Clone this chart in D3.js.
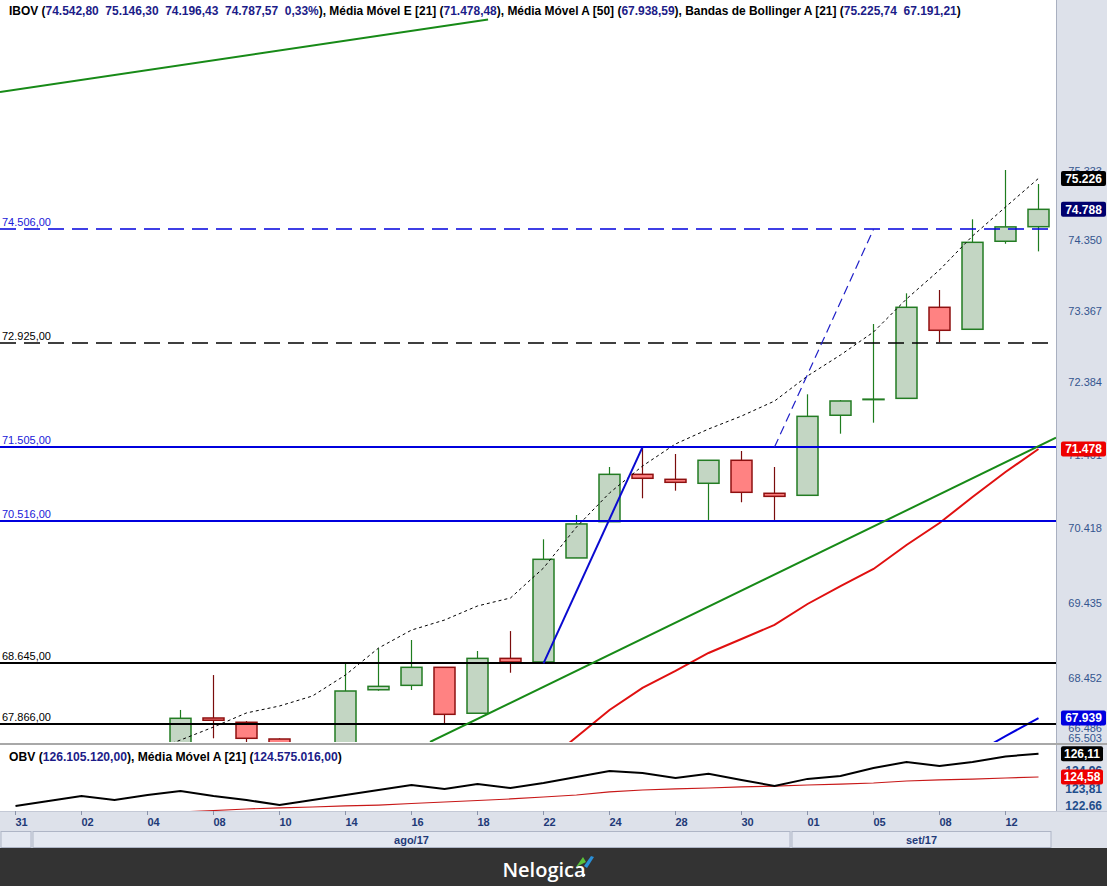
<!DOCTYPE html>
<html><head><meta charset="utf-8">
<script src="https://cdn.jsdelivr.net/npm/d3@7"></script>
<style>body{margin:0;background:#fff;overflow:hidden}svg{display:block}</style>
</head><body>
<svg id="c" width="1107" height="886"></svg>
<script>
// ---------------- DATA ----------------
const dayLabels = ["31","01","02","03","04","07","08","09","10","11","14","15","16","17","18","21","22","23","24","25","28","29","30","31","01","04","05","06","08","11","12","13"];
const monthLabels = ["jul/17","ago/17","set/17"];
const monthStart = [0, 1, 24];
const open  = [65600,65920,66520,66780,66770,66900,67940,67885,67671,66990,67400,68303,68360,68593,68001,68709,68662,70024,70505,71138,71071,71018,71327,70884,70857,71936,72150,72166,73417,73113,74338,74542.80];
const high  = [65980,66550,66900,66980,67400,68043,68493,67900,67680,67500,68645,68840,68948,68593,68805,69064,70271,70594,71237,71502,71412,71327,71452,71237,72221,72143,73186,73611,73657,74647,75345,75146.30];
const low   = [65500,65900,66400,66600,66700,66880,67680,67550,66950,66950,67380,68290,68300,67872,68001,68523,68662,70024,70505,70817,70919,70528,70764,70528,70857,71686,71835,72166,72933,73113,74303,74196.43];
const close = [65920,66520,66780,66770,66900,67936,67911,67680,66990,67360,68287,68347,68593,67987,68709,68662,70006,70475,71138,71085,71031,71327,70897,70843,71921,72130,72155,73417,73099,74323,74540,74787.57];
const ema21 = [null,null,null,null,null,null,null,null,null,null,null,null,null,null,null,null,67352,67697,68043,68326,68546,68779,68961,69144,69418,69654,69878,70195,70487,70834,71169,71478.48];
const sma50 = [null,null,null,null,null,null,null,null,null,null,null,null,null,null,null,null,null,null,null,null,null,null,null,null,null,null,null,null,null,67466,67709,67938.59];
const bbUpper = [null,null,null,67400,67500,67658,67824,68005,68094,68223,68494,68843,69077,69208,69392,69497,69891,70434,70888,71250,71547,71749,71925,72129,72471,72759,73075,73532,73936,74412,74820,75225.74];
const bbLowerLast = 67191.21;
const obv   = [122.67,123.00,123.33,123.06,123.39,123.66,123.33,123.06,122.74,123.06,123.39,123.72,124.05,123.79,124.12,123.85,124.18,124.58,124.97,124.84,124.51,124.78,124.38,123.99,124.45,124.64,125.17,125.56,125.30,125.56,125.93,126.10512];
const obvMA = [121.94,122.01,122.08,122.14,122.21,122.27,122.37,122.47,122.54,122.60,122.67,122.73,122.83,122.93,123.03,123.13,123.26,123.39,123.59,123.72,123.79,123.85,123.92,123.98,124.05,124.11,124.18,124.31,124.38,124.44,124.51,124.575016];
const priceTicks = [75333,74350,73367,72384,71401,70418,69435,68452,67469,66486,65503];
const obvTicks = [126.11,124.96,123.81,122.66];
const obvTickLabels = ["126,11","124,96","123,81","122.66"];
// horizontal levels drawn by the user
const levels = [74506,72925,71505,70516,68645,67866];
const levelColor = ["blue","black","blue","blue","black","black"];
const levelDashed = [true,true,false,false,false,false];
// trend lines: [index, price] pairs
const greenTopLine = [[-0.47,76463],[14.32,77516]];
const greenLowLine = [[12.56,67633],[31.53,71631]];
const blueLine = [[16,68645],[19,71505]];
const blueDashLine = [[23,71505],[26,74506]];

// ---------------- LAYOUT ----------------
const W=1107, paneR=1056, pTop=0, pBot=742, oTop=746, oBot=811, axBot=848;
const svg = d3.select("#c");
const loc = d3.formatLocale({decimal:",", thousands:".", grouping:[3], currency:["R$ ",""]});
const f2 = loc.format(",.2f"), f0 = loc.format(",.0f");
const FONT = "'Liberation Sans', Arial, sans-serif";

const n = close.length, idx = d3.range(n);
const x = d3.scaleLinear().domain([0, n-1]).range([15.5, 15.5+33*(n-1)]);
const y = d3.scaleLog().domain([67620, 77802]).range([743, 0]);
const yo = d3.scaleLinear().domain([122.338, 126.614]).range([oBot, oTop]);

// backgrounds
svg.append("rect").attr("width",W).attr("height",886).attr("fill","#fff");
svg.append("rect").attr("x",paneR).attr("y",0).attr("width",W-paneR).attr("height",oBot).attr("fill","#dde1ea");
svg.append("rect").attr("x",0).attr("y",oBot).attr("width",W).attr("height",axBot-oBot).attr("fill","#dde1ea");
svg.append("line").attr("x1",paneR+0.5).attr("x2",paneR+0.5).attr("y1",0).attr("y2",oBot).attr("stroke","#a9b0c0");
svg.append("rect").attr("x",0).attr("y",pBot+1).attr("width",W).attr("height",2).attr("fill","#a8a8a8");
svg.append("line").attr("x1",0).attr("x2",W).attr("y1",oBot+0.5).attr("y2",oBot+0.5).attr("stroke","#c4c9d6");

svg.append("clipPath").attr("id","cp").append("rect").attr("x",0).attr("y",pTop).attr("width",paneR).attr("height",pBot-pTop);
svg.append("clipPath").attr("id","co").append("rect").attr("x",0).attr("y",oTop).attr("width",paneR).attr("height",oBot-oTop);

const gp = svg.append("g").attr("clip-path","url(#cp)");

// candles
const up = i => close[i] >= open[i];
gp.selectAll("line.wick").data(idx).join("line").attr("class","wick")
  .attr("x1",i=>x(i)).attr("x2",i=>x(i)).attr("y1",i=>y(high[i])).attr("y2",i=>y(low[i]))
  .attr("stroke",i=>up(i)?"#1f7d1f":"#7a0c0c").attr("stroke-width",1.2);
gp.selectAll("rect.body").data(idx).join("rect").attr("class","body")
  .attr("x",i=>x(i)-10.5).attr("width",21)
  .attr("y",i=>y(Math.max(open[i],close[i])))
  .attr("height",i=>Math.max(0.5, Math.abs(y(open[i])-y(close[i]))))
  .attr("fill",i=>up(i)?"#c3d6c3":"#ff8282")
  .attr("stroke",i=>up(i)?"#237c23":"#8e1010").attr("stroke-width",1.5);

// indicator lines
const lineOf = arr => d3.line().defined(i=>arr[i]!=null).x(i=>x(i)).y(i=>y(arr[i]));
gp.append("path").attr("d",lineOf(bbUpper)(idx)).attr("fill","none").attr("stroke","#000").attr("stroke-width",1).attr("stroke-dasharray","3,3");
gp.append("path").attr("d",lineOf(ema21)(idx)).attr("fill","none").attr("stroke","#e01010").attr("stroke-width",2);
gp.append("path").attr("d",lineOf(sma50)(idx)).attr("fill","none").attr("stroke","#0000dd").attr("stroke-width",2);

// levels
levels.forEach((v,k)=>{
  const yy = Math.round(y(v));
  const col = levelColor[k]==="blue" ? "#0000dd" : "#000";
  gp.append("line").attr("x1",0).attr("x2",paneR).attr("y1",yy).attr("y2",yy)
    .attr("stroke",col).attr("stroke-width",levelDashed[k]?1.3:2)
    .attr("stroke-dasharray",levelDashed[k]?"16,8":null);
  gp.append("text").attr("x",2).attr("y",yy-3).text(f2(v))
    .attr("font-family",FONT).attr("font-size",11)
    .attr("fill",levelColor[k]==="blue" ? "#2020d8" : "#000");
});

// trend lines
const tl = d3.line().x(d=>x(d[0])).y(d=>y(d[1]));
gp.append("path").attr("d",tl(greenTopLine)).attr("fill","none").attr("stroke","#178a17").attr("stroke-width",2);
gp.append("path").attr("d",tl(greenLowLine)).attr("fill","none").attr("stroke","#178a17").attr("stroke-width",2);
gp.append("path").attr("d",tl(blueLine)).attr("fill","none").attr("stroke","#0a0ad0").attr("stroke-width",2);
gp.append("path").attr("d",tl(blueDashLine)).attr("fill","none").attr("stroke","#2020c8").attr("stroke-width",1.2).attr("stroke-dasharray","9,5");

// legend (price)
function legend(parts, yb, target){
  const t = svg.append("text").attr("x",9).attr("y",yb).attr("font-family",FONT).attr("font-weight","bold").attr("font-size",12).attr("xml:space","preserve");
  parts.forEach(p=> t.append("tspan").text(p[0]).attr("fill",p[1]?"#1c1c88":"#000"));
  const w = t.node().getComputedTextLength();
  t.attr("font-size", 12*target/w);
}
const last = n-1;
const chg = (close[last]-close[last-1])/close[last-1]*100;
legend([["IBOV (",0],[`${f2(open[last])}  ${f2(high[last])}  ${f2(low[last])}  ${f2(close[last])}  ${loc.format(".2f")(chg)}%`,1],["), Média Móvel E [21] (",0],[f2(ema21[last]),1],["), Média Móvel A [50] (",0],[f2(sma50[last]),1],["), Bandas de Bollinger A [21] (",0],[`${f2(bbUpper[last])}  ${f2(bbLowerLast)}`,1],[")",0]], 15, 953);

// price axis labels
const yl = priceTicks.map(v=>y(v));
const maxY = 738;
const clamped = priceTicks.filter((v,k)=>yl[k]>maxY).length;
let ci = 0;
priceTicks.forEach((v,k)=>{
  let yy = yl[k];
  if (yy>maxY){ yy = maxY - (clamped-1-ci)*10; ci++; }
  svg.append("text").attr("x",1102).attr("y",yy).attr("dy","0.35em").attr("text-anchor","end")
    .attr("font-family",FONT).attr("font-size",11).attr("fill","#34558f").text(f0(v));
});
function badge(yy, txt, bg){
  svg.append("rect").attr("x",1061).attr("y",yy-7.5).attr("width",45).attr("height",15).attr("rx",2).attr("fill",bg);
  svg.append("text").attr("x",1083.5).attr("y",yy).attr("dy","0.36em").attr("text-anchor","middle")
    .attr("font-family",FONT).attr("font-weight","bold").attr("font-size",12).attr("fill","#fff").text(txt);
}
badge(y(bbUpper[last]), f0(bbUpper[last]), "#000");
badge(y(close[last]), f0(close[last]), "#00006e");
badge(y(ema21[last]), f0(ema21[last]), "#ee0000");
badge(y(sma50[last]), f0(sma50[last]), "#0000e0");

// OBV pane
const go = svg.append("g").attr("clip-path","url(#co)");
go.append("path").attr("d",d3.line().x(i=>x(i)).y(i=>yo(obvMA[i]))(idx)).attr("fill","none").attr("stroke","#c81818").attr("stroke-width",1.2);
go.append("path").attr("d",d3.line().x(i=>x(i)).y(i=>yo(obv[i]))(idx)).attr("fill","none").attr("stroke","#000").attr("stroke-width",2);
const ol = svg.append("text").attr("x",9).attr("y",761).attr("font-family",FONT).attr("font-weight","bold").attr("font-size",12);
[["OBV (",0],[f2(obv[last]*1e6),1],["), Média Móvel A [21] (",0],[f2(obvMA[last]*1e6),1],[")",0]]
  .forEach(p=> ol.append("tspan").text(p[0]).attr("fill",p[1]?"#1c1c88":"#000"));
const olw = ol.node().getComputedTextLength(); ol.attr("font-size",12*333/olw);
obvTicks.forEach((v,k)=>{
  svg.append("text").attr("x",1102).attr("y",yo(v)).attr("dy","0.35em").attr("text-anchor","end")
   .attr("font-family",FONT).attr("font-weight","bold").attr("font-size",12).attr("fill","#1f4e8c").text(obvTickLabels[k]);
});
function badgeO(yy, txt, bg){
  svg.append("rect").attr("x",1061).attr("y",yy-7.5).attr("width",42).attr("height",15).attr("rx",2).attr("fill",bg);
  svg.append("text").attr("x",1082).attr("y",yy).attr("dy","0.36em").attr("text-anchor","middle")
    .attr("font-family",FONT).attr("font-weight","bold").attr("font-size",12).attr("fill","#fff").text(txt);
}
badgeO(yo(obv[last]), loc.format(".2f")(obv[last]), "#000");
badgeO(yo(obvMA[last]), loc.format(".2f")(obvMA[last]), "#ee0000");

// date axis
const tickI = idx.filter(i=>i%2===0);
svg.selectAll("line.dt").data(tickI).join("line").attr("class","dt")
  .attr("x1",i=>x(i)).attr("x2",i=>x(i)).attr("y1",oBot).attr("y2",oBot+4).attr("stroke","#8a93aa");
svg.selectAll("text.dt").data(tickI).join("text").attr("class","dt")
  .attr("x",i=>x(i)).attr("y",826).attr("font-family",FONT).attr("font-weight","bold").attr("font-size",11)
  .attr("fill","#1f3a78").text(i=>dayLabels[i]);
monthStart.forEach((s,k)=>{
  const e = k<monthStart.length-1 ? monthStart[k+1] : n;
  const x0 = s===0 ? 0 : x(s)-16.5, x1 = k<monthStart.length-1 ? x(e)-16.5 : paneR-4;
  svg.append("rect").attr("x",x0+1).attr("y",831.5).attr("width",x1-x0-2).attr("height",16).attr("fill","#e4e8f1").attr("stroke","#aeb5c6");
  if (x1-x0>60) svg.append("text").attr("x",(x0+x1)/2).attr("y",843.5).attr("text-anchor","middle")
    .attr("font-family",FONT).attr("font-weight","bold").attr("font-size",11).attr("fill","#1f3a78").text(monthLabels[k]);
});

// footer
svg.append("rect").attr("x",0).attr("y",axBot).attr("width",W).attr("height",886-axBot).attr("fill","#333333");
svg.append("text").attr("x",544).attr("y",877).attr("text-anchor","middle").attr("font-family","'Open Sans', sans-serif")
  .attr("font-weight",600).attr("font-size",20).attr("fill","#fff").text("Nelogica");
svg.append("circle").attr("cx",584).attr("cy",875).attr("r",1.3).attr("fill","#fff");
svg.append("path").attr("d","M576,867 L583,857 L586,862 Z").attr("fill","#5cc23a");
svg.append("path").attr("d","M584,866 L591,856 L594,857 L587,868 Z").attr("fill","#2a8fd8");
</script>
</body></html>
